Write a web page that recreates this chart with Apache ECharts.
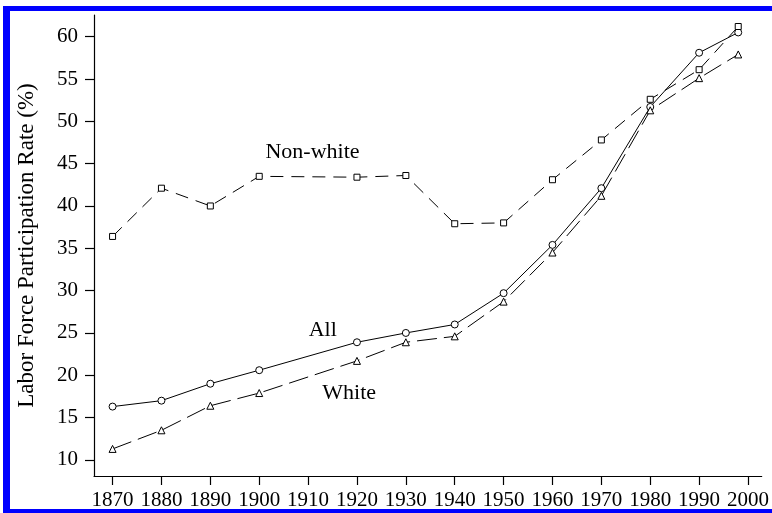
<!DOCTYPE html>
<html>
<head>
<meta charset="utf-8">
<script src="https://cdn.jsdelivr.net/npm/echarts@6/dist/echarts.min.js"></script>
<style>
html,body{margin:0;padding:0;background:#fff;}
#chart{position:absolute;left:0;top:0;width:772px;height:513px;}
.bd{position:absolute;background:#0000ff;}
</style>
</head>
<body>
<div id="chart"></div>
<div class="bd" style="left:3px;top:6px;width:769px;height:5px;"></div>
<div class="bd" style="left:3px;top:6px;width:7px;height:507px;"></div>
<div class="bd" style="left:3px;top:509px;width:769px;height:4px;"></div>
<script>
const years = [1870, 1880, 1890, 1900, 1920, 1930, 1940, 1950, 1960, 1970, 1980, 1990, 1998];
const allRate = [16.3, 17.0, 19.0, 20.6, 23.9, 25.0, 26.0, 29.7, 35.4, 42.1, 51.7, 58.1, 60.5];
const whiteRate = [11.3, 13.5, 16.4, 17.9, 21.7, 23.9, 24.6, 28.7, 34.5, 41.2, 51.3, 55.1, 57.9];
const nonWhiteRate = [36.4, 42.1, 40.0, 43.5, 43.4, 43.6, 37.9, 38.0, 43.1, 47.8, 52.6, 56.1, 61.2];
const xTickYears = [1870, 1880, 1890, 1900, 1910, 1920, 1930, 1940, 1950, 1960, 1970, 1980, 1990, 2000];
const yTickValues = [10, 15, 20, 25, 30, 35, 40, 45, 50, 55, 60];
const seriesNames = ['All', 'White', 'Non-white'];
const labelAnchors = [[1913.0, 25.3], [1918.4, 17.9], [1910.9, 46.3]];

const FONT = 'Liberation Serif';
const chart = echarts.init(document.getElementById('chart'));
const pair = arr => years.map((y, i) => [y, arr[i]]);
const common = { type: 'line', animation: false, z: 3 };
chart.setOption({
  backgroundColor: '#fff',
  animation: false,
  grid: { left: 94, right: 6, top: 15, bottom: 37 },
  xAxis: {
    type: 'value', min: 1866.2, max: 2002.8,
    axisLine: { show: true, lineStyle: { color: '#000', width: 1.2 } },
    axisTick: { show: true, length: 9, customValues: xTickYears, lineStyle: { color: '#000', width: 1.2 } },
    axisLabel: { customValues: xTickYears, margin: 14, fontFamily: FONT, fontSize: 21, color: '#000',
      formatter: v => String(Math.round(v)) },
    splitLine: { show: false }
  },
  yAxis: {
    type: 'value', min: 8.1, max: 62.56,
    name: 'Labor Force Participation Rate (%)', nameLocation: 'middle', nameGap: 56,
    nameTextStyle: { fontFamily: FONT, fontSize: 23, color: '#000' },
    axisLine: { show: true, lineStyle: { color: '#000', width: 1.2 } },
    axisTick: { show: true, length: 9, customValues: yTickValues, lineStyle: { color: '#000', width: 1.2 } },
    axisLabel: { customValues: yTickValues, margin: 16, fontFamily: FONT, fontSize: 21, color: '#000' },
    splitLine: { show: false }
  },
  series: [
    Object.assign({}, common, {
      name: seriesNames[0], data: pair(allRate), symbol: 'circle', symbolSize: 7,
      lineStyle: { color: '#000', width: 1, type: 'solid' },
      itemStyle: { color: '#fff', borderColor: '#000', borderWidth: 1 }
    }),
    Object.assign({}, common, {
      name: seriesNames[1], data: pair(whiteRate), symbol: 'triangle', symbolSize: 7,
      lineStyle: { color: '#000', width: 1, type: [20, 7] },
      itemStyle: { color: '#fff', borderColor: '#000', borderWidth: 1 }
    }),
    Object.assign({}, common, {
      name: seriesNames[2], data: pair(nonWhiteRate), symbol: 'rect', symbolSize: 6,
      lineStyle: { color: '#000', width: 1, type: [13, 8] },
      itemStyle: { color: '#fff', borderColor: '#000', borderWidth: 1 }
    }),
    {
      type: 'scatter', name: 'labels', silent: true, animation: false, z: 5,
      symbolSize: 2, itemStyle: { color: 'rgba(255,255,255,0)' },
      labelLayout: { hideOverlap: false },
      data: labelAnchors.map((c, i) => ({ value: c, name: seriesNames[i] })),
      label: { show: true, position: 'inside', formatter: p => p.name,
        fontFamily: FONT, fontSize: 22, color: '#000', opacity: 1 }
    }
  ]
});
</script>
</body>
</html>
